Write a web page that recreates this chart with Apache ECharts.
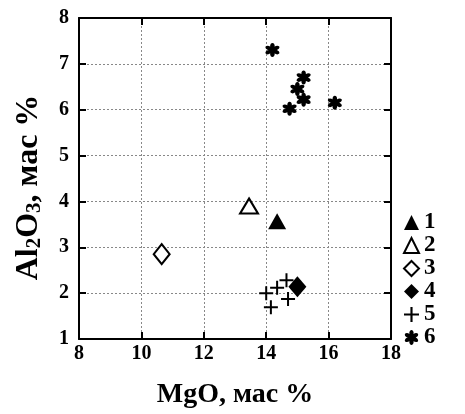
<!DOCTYPE html>
<html><head><meta charset="utf-8">
<script src="https://cdn.jsdelivr.net/npm/echarts@6/dist/echarts.min.js"></script>
<style>html,body{margin:0;padding:0;background:#fff}#c{width:465px;height:414px}</style>
</head><body><div id="c"></div>
<script>
// Data (MgO, Al2O3 wt %)
const xTicks = [8, 10, 12, 14, 16, 18];
const yTicks = [1, 2, 3, 4, 5, 6, 7, 8];
const seriesNames = ['1', '2', '3', '4', '5', '6'];
const s1 = [[14.35, 3.57]];
const s2 = [[13.45, 3.9]];
const s3 = [[10.65, 2.85]];
const s4 = [[15.0, 2.14]];
const s5 = [[14.0, 2.0], [14.35, 2.12], [14.65, 2.28], [14.7, 1.87], [14.15, 1.69]];
const s6 = [[14.2, 7.3], [15.2, 6.7], [15.0, 6.45], [15.2, 6.22], [14.75, 6.02], [16.2, 6.15]];

// symbol shapes
function starPath() {
  let d = '';
  const pts = [[-4.5,-4],[-3.5,-10],[0,-10.5],[3.5,-10],[4.5,-4]];
  for (let k = 0; k < 6; k++) {
    const a = k * Math.PI / 3;
    const r = p => [(p[0]*Math.cos(a) - p[1]*Math.sin(a)).toFixed(2), (p[0]*Math.sin(a) + p[1]*Math.cos(a)).toFixed(2)];
    const q = pts.map(r);
    d += 'M0 0 C' + q[0].join(' ') + ' ' + q[1].join(' ') + ' ' + q[2].join(' ') +
         ' C' + q[3].join(' ') + ' ' + q[4].join(' ') + ' 0 0 Z ';
  }
  return 'path://' + d;
}
const plusPath = 'path://M-1 -7 H1 V-1 H7 V1 H1 V7 H-1 V1 H-7 V-1 H-1 Z';
const FONT = 'Liberation Serif';

const chart = echarts.init(document.getElementById('c'));
const axisCommon = {
  axisLine: { show: true, onZero: false, lineStyle: { color: '#000', width: 2 } },
  axisTick: { show: true, inside: true, length: 7, lineStyle: { color: '#000', width: 2 } },
};
chart.setOption({
  animation: false,
  backgroundColor: '#fff',
  grid: { left: 79, right: 74, top: 18, bottom: 66 },
  legend: {
    orient: 'vertical', left: 398, top: 206, itemGap: 0, itemWidth: 15, itemHeight: 15,
    data: seriesNames,
    textStyle: { fontFamily: FONT, fontWeight: 'bold', fontSize: 23, lineHeight: 21, color: '#000' }
  },
  xAxis: [
    Object.assign({
      type: 'value', min: xTicks[0], max: xTicks[xTicks.length - 1], interval: 2,
      position: 'bottom',
      name: 'MgO, мас %', nameLocation: 'middle', nameGap: 42,
      nameTextStyle: { fontFamily: FONT, fontWeight: 'bold', fontSize: 28, color: '#000' },
      axisLabel: { margin: 5, fontFamily: FONT, fontWeight: 'bold', fontSize: 20, color: '#000' },
      splitLine: { show: true, lineStyle: { color: '#888', type: [2, 2], width: 1 } }
    }, axisCommon),
    Object.assign({
      type: 'value', min: xTicks[0], max: xTicks[xTicks.length - 1], interval: 2,
      position: 'top', axisLabel: { show: false }, splitLine: { show: false }
    }, axisCommon)
  ],
  yAxis: [
    Object.assign({
      type: 'value', min: yTicks[0], max: yTicks[yTicks.length - 1], interval: 1,
      position: 'left',
      name: '{a|Al}{s|2}{a|O}{s|3}{a|, мас %}', nameLocation: 'middle', nameGap: 34, nameRotate: 90,
      nameTextStyle: {
        fontFamily: FONT, fontWeight: 'bold', fontSize: 32, color: '#000',
        padding: [0, 18, 0, 0],
        rich: {
          a: { fontFamily: FONT, fontWeight: 'bold', fontSize: 32, lineHeight: 32, verticalAlign: 'bottom', color: '#000' },
          s: { fontFamily: FONT, fontWeight: 'bold', fontSize: 21, lineHeight: 12, verticalAlign: 'bottom', color: '#000' }
        }
      },
      axisLabel: { margin: 10, fontFamily: FONT, fontWeight: 'bold', fontSize: 20, color: '#000' },
      splitLine: { show: true, lineStyle: { color: '#888', type: [2, 2], width: 1 } }
    }, axisCommon),
    Object.assign({
      type: 'value', min: yTicks[0], max: yTicks[yTicks.length - 1], interval: 1,
      position: 'right', axisLabel: { show: false }, splitLine: { show: false }
    }, axisCommon)
  ],
  series: [
    { name: '1', type: 'scatter', data: s1, symbol: 'triangle', symbolSize: [18, 16],
      itemStyle: { color: '#000', opacity: 1 } },
    { name: '2', type: 'scatter', data: s2, symbol: 'triangle', symbolSize: [18, 15],
      itemStyle: { color: '#fff', borderColor: '#000', borderWidth: 2, opacity: 1 } },
    { name: '3', type: 'scatter', data: s3, symbol: 'diamond', symbolSize: [16, 20],
      itemStyle: { color: '#fff', borderColor: '#000', borderWidth: 2, opacity: 1 } },
    { name: '4', type: 'scatter', data: s4, symbol: 'diamond', symbolSize: [18, 21],
      itemStyle: { color: '#000', opacity: 1 } },
    { name: '5', type: 'scatter', data: s5, symbol: plusPath, symbolSize: 14,
      itemStyle: { color: '#000', opacity: 1 } },
    { name: '6', type: 'scatter', data: s6, symbol: starPath(), symbolSize: 14,
      itemStyle: { color: '#000', opacity: 1 } }
  ]
});
</script></body></html>
